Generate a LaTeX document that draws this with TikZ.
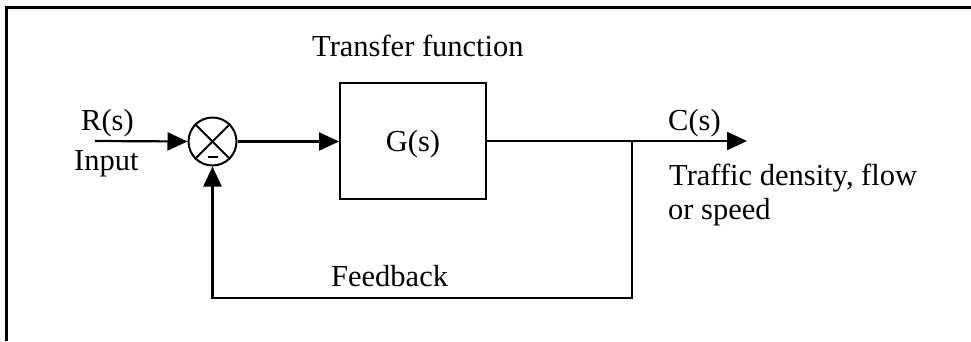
\documentclass[tikz,border=0pt]{standalone}
\usepackage{fontspec}
\setmainfont{Liberation Serif}
\usetikzlibrary{arrows.meta}
\begin{document}
\begin{tikzpicture}[x=1pt,y=-1pt,
  every node/.style={font=\fontsize{30.5}{34}\selectfont, inner sep=0pt},
  txt/.style={anchor=base west},
  conn/.style={line width=2.2pt},
  arrowconn/.style={conn, -{Triangle[length=20pt,width=18pt]}},
  sumnode/.style={circle, draw, line width=2pt, minimum size=48pt},
  blockbox/.style={draw, line width=2pt, minimum width=146pt, minimum height=116pt, text depth=0pt},
  frameline/.style={line width=3pt}]
\useasboundingbox (0,0) rectangle (971,341);
\fill[white] (0,0) rectangle (971,341);
\draw[frameline] (6.5,341) -- (6.5,7) -- (971,7);

% nodes
\node[sumnode] (sum) at (212.5,141.5) {};
\draw[line width=2pt] (sum.north west) -- (sum.south east);
\draw[line width=2pt] (sum.north east) -- (sum.south west);
\draw[line width=2pt] (sum.center) ++(-5,15) -- ++(10,0);

\node[blockbox] (G) at (413,141.2) {G(s)};

\node[txt] (tf) at (312,56) {Transfer function};
\node[txt] (R) at (81,130) {R(s)};
\node[txt] (inp) at (74,170) {Input};
\node[txt] (C) at (668,130) {C(s)};
\node[txt] (tr1) at (669,185) {Traffic density, flow};
\node[txt] (tr2) at (668,219) {or speed};
\node[txt] (fbl) at (331,286) {Feedback};

% connectors
\coordinate (in) at (95,141);
\coordinate (tap) at (632,141);
\coordinate (out) at (747,141);
\coordinate (fb) at (632,298);

\draw[arrowconn] (in) -- (sum.west);
\draw[arrowconn] (sum.east) -- (sum.east -| G.west);
\draw[arrowconn] (G.east |- tap) -- (out);
\draw[arrowconn] (tap) -- (fb) -| (sum.south);
\end{tikzpicture}
\end{document}
